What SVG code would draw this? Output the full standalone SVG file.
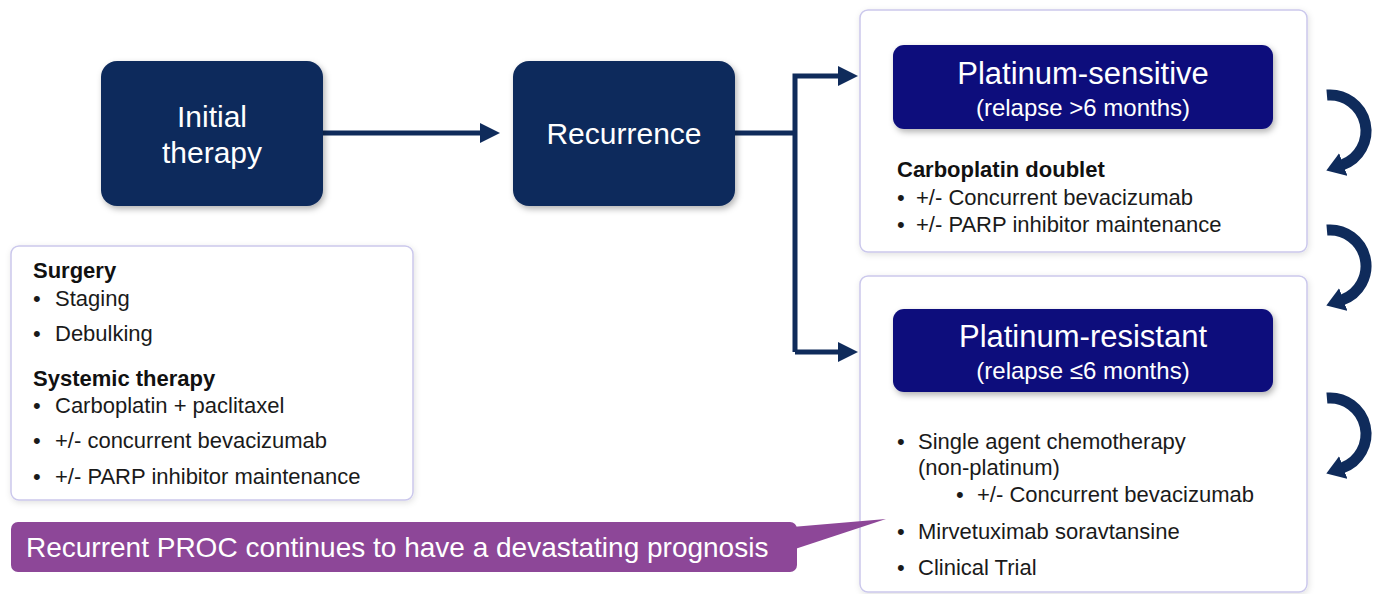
<svg xmlns="http://www.w3.org/2000/svg" width="1385" height="594" viewBox="0 0 1385 594">
<style>
  text { font-family: "Liberation Sans", Arial, sans-serif; }
  .dark { fill: #0f2b5b; }
  .hdr { fill: #0c0e7c; }
  .panel { fill: #ffffff; stroke: #cbc8ec; stroke-width: 1.5; }
  .big { fill: #ffffff; font-size: 30px; text-anchor: middle; }
  .sub { fill: #ffffff; font-size: 24px; text-anchor: middle; }
  .body { fill: #1a1a1a; font-size: 22px; }
  .bold { fill: #111111; font-size: 22px; font-weight: bold; }
  .conn { fill: none; stroke: #0f2b5b; stroke-width: 5; }
  .curve { fill: none; stroke: #0f2b5b; stroke-width: 11; }
  .callout { fill: #8d4798; }
  .ctext { fill: #ffffff; font-size: 28px; }
</style>
<defs>
  <filter id="shadow" x="-10%" y="-10%" width="130%" height="130%">
    <feDropShadow dx="2" dy="3" stdDeviation="3" flood-color="#000000" flood-opacity="0.3"/>
  </filter>
  <filter id="soft" x="-10%" y="-10%" width="130%" height="130%">
    <feDropShadow dx="1" dy="2" stdDeviation="3" flood-color="#000000" flood-opacity="0.12"/>
  </filter>
  <marker id="head" viewBox="0 0 20 20" refX="0" refY="10" markerWidth="20" markerHeight="20" markerUnits="userSpaceOnUse" orient="auto">
    <path d="M0,0 L20,10 L0,20 z" fill="#0f2b5b"/>
  </marker>
  <marker id="chead" viewBox="0 0 18 24" refX="1" refY="12" markerWidth="18" markerHeight="24" markerUnits="userSpaceOnUse" orient="auto">
    <path d="M0,0 L18,12 L0,24 z" fill="#0f2b5b"/>
  </marker>
</defs>

<rect width="1385" height="594" fill="#ffffff"/>

<g id="connectors">
  <path class="conn" d="M323,133 L480,133" marker-end="url(#head)"/>
  <path class="conn" d="M735,133 L795,133"/>
  <path class="conn" d="M795,352 L795,76 L838,76" marker-end="url(#head)"/>
  <path class="conn" d="M795,352 L838,352" marker-end="url(#head)"/>
  <path class="curve" d="M1326.9,95.1 A36,36 0 0 1 1342.3,164.8" marker-end="url(#chead)"/>
  <path class="curve" d="M1326.9,230.1 A36,36 0 0 1 1342.3,299.8" marker-end="url(#chead)"/>
  <path class="curve" d="M1326.9,398.1 A36,36 0 0 1 1342.3,467.8" marker-end="url(#chead)"/>
</g>

<g id="initial-therapy">
  <rect class="dark" x="101" y="61" width="222" height="145" rx="16" filter="url(#shadow)"/>
  <text class="big" x="212" y="127">Initial</text>
  <text class="big" x="212" y="163">therapy</text>
</g>

<g id="recurrence">
  <rect class="dark" x="513" y="61" width="222" height="145" rx="16" filter="url(#shadow)"/>
  <text class="big" x="624" y="144">Recurrence</text>
</g>

<g id="initial-details">
  <rect class="panel" x="11" y="246" width="402" height="254" rx="8" filter="url(#soft)"/>
  <text class="bold" x="33" y="278">Surgery</text>
  <text class="body" x="33" y="306">•</text><text class="body" x="55" y="306">Staging</text>
  <text class="body" x="33" y="341">•</text><text class="body" x="55" y="341">Debulking</text>
  <text class="bold" x="33" y="386">Systemic therapy</text>
  <text class="body" x="33" y="413">•</text><text class="body" x="55" y="413">Carboplatin + paclitaxel</text>
  <text class="body" x="33" y="448">•</text><text class="body" x="55" y="448">+/- concurrent bevacizumab</text>
  <text class="body" x="33" y="484">•</text><text class="body" x="55" y="484">+/- PARP inhibitor maintenance</text>
</g>

<g id="platinum-sensitive">
  <rect class="panel" x="860" y="10" width="447" height="242" rx="8" filter="url(#soft)"/>
  <rect class="hdr" x="893" y="45" width="380" height="84" rx="11" filter="url(#shadow)"/>
  <text class="big" x="1083" y="84" style="font-size:31px">Platinum-sensitive</text>
  <text class="sub" x="1083" y="116">(relapse &gt;6 months)</text>
  <text class="bold" x="897" y="177">Carboplatin doublet</text>
  <text class="body" x="897" y="205">•</text><text class="body" x="916" y="205">+/- Concurrent bevacizumab</text>
  <text class="body" x="897" y="232">•</text><text class="body" x="916" y="232">+/- PARP inhibitor maintenance</text>
</g>

<g id="platinum-resistant">
  <rect class="panel" x="860" y="276" width="447" height="316" rx="8" filter="url(#soft)"/>
  <rect class="hdr" x="893" y="309" width="380" height="83" rx="11" filter="url(#shadow)"/>
  <text class="big" x="1083" y="347" style="font-size:31px">Platinum-resistant</text>
  <text class="sub" x="1083" y="379">(relapse ≤6 months)</text>
  <text class="body" x="897" y="449">•</text><text class="body" x="918" y="449">Single agent chemotherapy</text>
  <text class="body" x="918" y="475">(non-platinum)</text>
  <text class="body" x="956" y="502">•</text><text class="body" x="977" y="502">+/- Concurrent bevacizumab</text>
  <text class="body" x="897" y="539">•</text><text class="body" x="918" y="539">Mirvetuximab soravtansine</text>
  <text class="body" x="897" y="575">•</text><text class="body" x="918" y="575">Clinical Trial</text>
</g>

<g id="callout">
  <polygon class="callout" points="792,527 886,519 792,550"/>
  <rect class="callout" x="11" y="522" width="786" height="50" rx="7"/>
  <text class="ctext" x="26" y="557">Recurrent PROC continues to have a devastating prognosis</text>
</g>
</svg>
